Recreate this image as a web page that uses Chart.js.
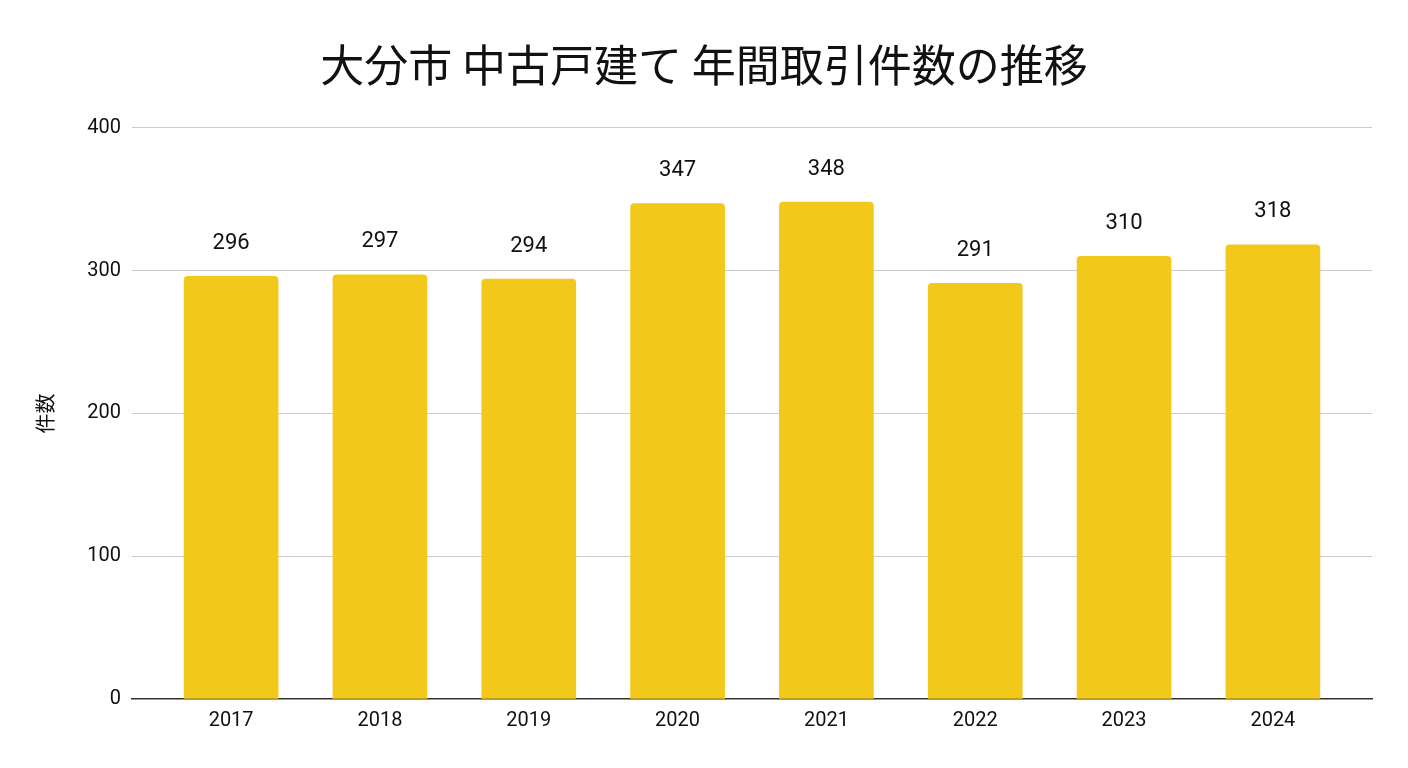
<!DOCTYPE html>
<html>
<head>
<meta charset="utf-8">
<script src="https://cdn.jsdelivr.net/npm/chart.js@4"></script>
<style>
html,body{margin:0;padding:0;background:#fff;}
#wrap{width:1408px;height:768px;}
</style>
</head>
<body>
<div id="wrap"><canvas id="c" width="1408" height="768"></canvas></div>
<script>
const titleText = '大分市 中古戸建て 年間取引件数の推移';
const yAxisTitle = '件数';
const years = [2017, 2018, 2019, 2020, 2021, 2022, 2023, 2024];
const counts = [296, 297, 294, 347, 348, 291, 310, 318];
const yTicks = [0, 100, 200, 300, 400];

const barColor = '#F2C81A';
const fontLatin = 'Roboto, "Noto Sans CJK JP", sans-serif';
const fontCJK = '"Noto Sans CJK JP", "Noto Sans", sans-serif';

const valueLabels = {
  id: 'valueLabels',
  afterDatasetsDraw(chart) {
    const ctx = chart.ctx;
    const meta = chart.getDatasetMeta(0);
    ctx.save();
    ctx.font = '22px ' + fontLatin;
    ctx.fillStyle = '#111';
    ctx.textAlign = 'center';
    ctx.textBaseline = 'middle';
    meta.data.forEach((bar, i) => {
      ctx.fillText(String(counts[i]), bar.x, bar.y - 33);
    });
    ctx.restore();
  }
};

new Chart(document.getElementById('c'), {
  type: 'bar',
  data: {
    datasets: [{
      data: years.map((y, i) => ({x: y, y: counts[i]})),
      backgroundColor: barColor,
      borderRadius: 4,
      borderSkipped: 'start',
      barThickness: 94,
      yAxisID: 'y'
    }]
  },
  options: {
    responsive: false,
    animation: false,
    devicePixelRatio: 1,
    layout: {padding: 0},
    plugins: {
      legend: {display: false},
      tooltip: {enabled: false},
      title: {
        display: true,
        text: titleText,
        color: '#111',
        font: {family: fontCJK, size: 44, weight: 'normal', lineHeight: 1.2},
        padding: {top: 39, bottom: 36}
      }
    },
    scales: {
      x: {
        type: 'linear',
        offset: false,
        min: 2016.334,
        max: 2024.666,
        afterBuildTicks: s => { s.ticks = years.map(v => ({value: v})); },
        afterFit: s => { s.height = 69; },
        ticks: {
          color: '#111',
          font: {family: fontLatin, size: 20},
          padding: 10,
          callback: v => String(v),
          maxRotation: 0,
          autoSkip: false
        },
        grid: {display: false, drawTicks: false},
        border: {display: true, color: '#333', width: 1.5}
      },
      y: {
        min: 0,
        max: 400,
        afterBuildTicks: s => { s.ticks = yTicks.map(v => ({value: v})); },
        afterFit: s => { s.width = 132; },
        ticks: {
          color: '#111',
          font: {family: fontLatin, size: 20},
          padding: 11
        },
        grid: {
          drawTicks: false,
          color: c => (c.tick && c.tick.value === 0) ? 'rgba(0,0,0,0)' : '#CCCCCC',
          lineWidth: 1
        },
        border: {display: false},
        title: {
          display: true,
          text: yAxisTitle,
          color: '#111',
          font: {family: fontCJK, size: 20, lineHeight: 1.2},
          padding: {top: 33, bottom: 0}
        }
      },
      yRight: {
        position: 'right',
        display: true,
        min: 0,
        max: 400,
        afterFit: s => { s.width = 36; },
        ticks: {display: false},
        grid: {display: false, drawTicks: false},
        border: {display: false}
      }
    }
  },
  plugins: [valueLabels]
});
</script>
</body>
</html>
